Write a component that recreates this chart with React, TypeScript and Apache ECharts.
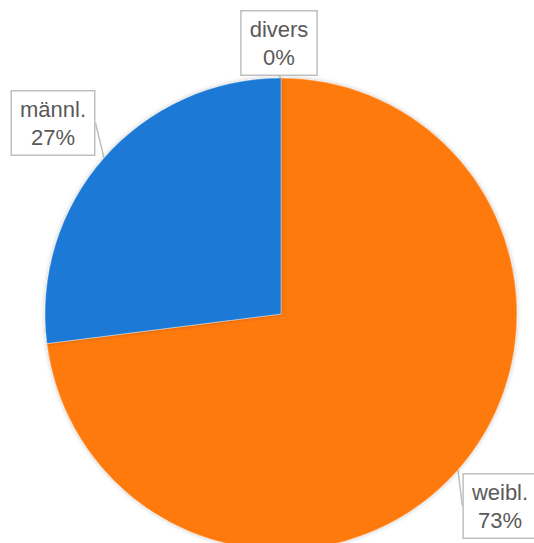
import React, { useEffect, useRef } from "react";
import * as echarts from "echarts";

const categories = ["divers", "weibl.", "männl."];
const values = [0, 73, 27];
const colors = ["#1b79d6", "#ff7a0d", "#1b79d6"];

export default function App() {
  const ref = useRef<HTMLDivElement>(null);
  useEffect(() => {
    if (!ref.current) return;
    const chart = echarts.init(ref.current, null, { renderer: "svg" });
    const labelPos: Record<number, [number, number]> = {
      0: [279, 43],
      1: [500, 506],
      2: [53, 123],
    };
    chart.setOption({
      animation: false,
      backgroundColor: "#ffffff",
      series: [
        {
          type: "pie",
          center: [281, 314],
          radius: 236,
          startAngle: 90,
          clockwise: true,
          avoidLabelOverlap: false,
          data: categories.map((c, i) => ({
            name: c,
            value: values[i],
            itemStyle: { color: colors[i] },
          })),
          itemStyle: {
            borderColor: "rgba(255,255,255,0.35)",
            borderWidth: 1,
            shadowColor: "rgba(0,0,0,0.25)",
            shadowBlur: 4,
          },
          label: {
            show: true,
            position: "outside",
            formatter: "{b}\n{c}%",
            color: "#595959",
            fontFamily: "Liberation Sans, Arial, sans-serif",
            fontSize: 22,
            lineHeight: 28,
            align: "center",
            backgroundColor: "#ffffff",
            borderColor: "#bfbfbf",
            borderWidth: 1.5,
            padding: [4, 8, 3, 8],
          },
          labelLine: {
            show: true,
            length: 0,
            length2: 0,
            lineStyle: { color: "#bfbfbf", width: 1.5 },
          },
          labelLayout: (params: any) => {
            const p = labelPos[params.dataIndex];
            return { x: p[0], y: p[1], align: "center", verticalAlign: "middle" };
          },
          emphasis: { disabled: true },
        },
      ],
    });
    return () => chart.dispose();
  }, []);
  return <div ref={ref} style={{ width: 534, height: 543, position: "absolute", left: 0, top: 0 }} />;
}
